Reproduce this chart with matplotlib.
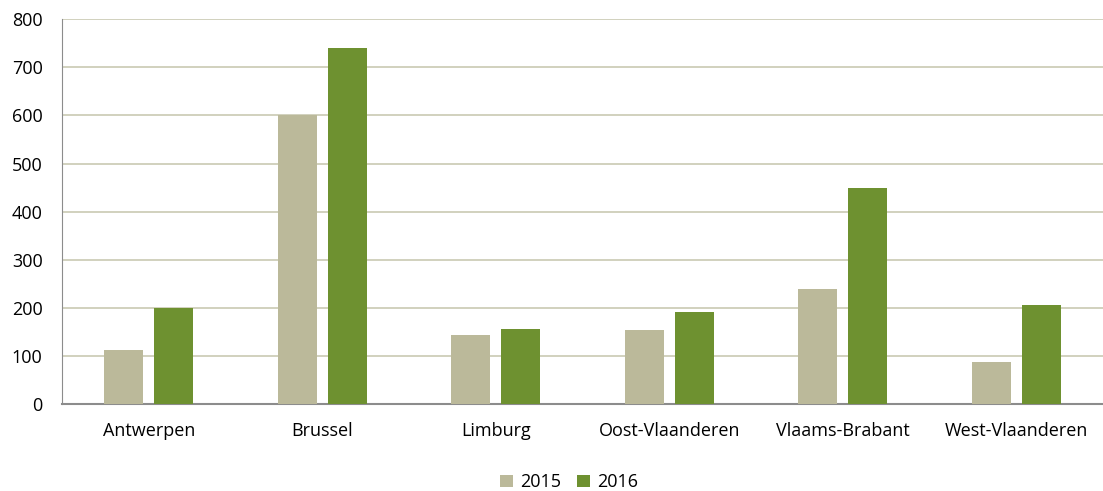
import numpy as np
import matplotlib.pyplot as plt

# Data
provinces = ["Antwerpen", "Brussel", "Limburg", "Oost-Vlaanderen",
             "Vlaams-Brabant", "West-Vlaanderen"]
values_2015 = [112, 600, 143, 155, 240, 88]
values_2016 = [199, 740, 156, 192, 450, 205]
y_ticks = [0, 100, 200, 300, 400, 500, 600, 700, 800]

plt.rcParams["font.family"] = ["Open Sans", "DejaVu Sans"]

fig = plt.figure(figsize=(11.03, 4.91), dpi=100)
ax = fig.add_axes([0.0562, 0.177, 0.9438, 0.784])

x = np.arange(len(provinces))
w = 0.225
ax.bar(x - 0.143, values_2015, w, color="#BBB99A", label="2015", zorder=3)
ax.bar(x + 0.143, values_2016, w, color="#6E9130", label="2016", zorder=3)

ax.set_xlim(-0.5, len(provinces) - 0.5)
ax.set_ylim(0, 800)
ax.set_yticks(y_ticks)
ax.set_xticks(x)
ax.set_xticklabels(provinces)
ax.tick_params(axis="both", length=0, labelsize=13, colors="black")
ax.tick_params(axis="y", pad=14)
ax.tick_params(axis="x", pad=13)

ax.grid(True, axis="y", color="#C9C9B3", lw=1.2, zorder=0)
for side in ["top", "right"]:
    ax.spines[side].set_visible(False)
ax.spines["left"].set_color("#8C8C8C")
ax.spines["bottom"].set_color("#8C8C8C")
ax.spines["bottom"].set_linewidth(1.5)

ax.legend(loc="upper center", bbox_to_anchor=(0.487, -0.147), ncol=2,
          frameon=False, fontsize=13, handlelength=0.7, handleheight=0.7,
          handletextpad=0.4, columnspacing=0.9, borderpad=0.2)

plt.savefig("out.png", dpi=100)
